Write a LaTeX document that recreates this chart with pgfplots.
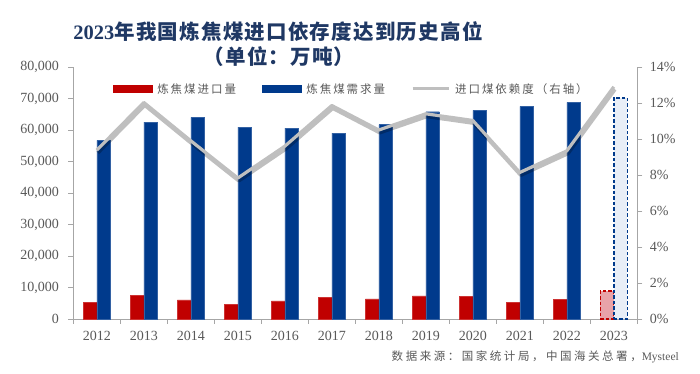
\documentclass[border=0pt]{standalone}
\usepackage{pgfplots}
\pgfplotsset{compat=1.18}
\usepackage{fontspec}
\setmainfont{Liberation Serif}
\newfontfamily\cjk[LetterSpace=17]{Noto Sans CJK SC}
\newfontfamily\cjknote[LetterSpace=22]{Noto Sans CJK SC}
\newfontfamily\cjktitle[LetterSpace=6]{Noto Sans CJK SC}
\definecolor{cred}{HTML}{C00000}
\definecolor{cblue}{HTML}{003A8C}
\definecolor{cgray}{HTML}{BFBFBF}
\definecolor{ctick}{HTML}{595959}
\definecolor{caxis}{HTML}{A6A6A6}
\definecolor{ctitle}{HTML}{1F3864}
\definecolor{cpink}{HTML}{E8A3A9}
\definecolor{clight}{HTML}{E8EEF7}

\pgfplotstableread{
x imp dem ratio
0 5260 56700 9.38
1 7470 62500 12.03
2 6100 64000 9.9
3 4740 60900 7.83
4 5790 60600 9.6
5 6840 59000 11.86
6 6420 61700 10.5
7 7370 65800 11.4
8 7160 66200 11.03
9 5370 67500 8.14
10 6210 68800 9.34
}\histdata
\pgfplotstableread{
x imp dem ratio
11 8950 70200 12.9
}\estdata
\pgfplotstableread{
x ratio
0 9.38
1 12.03
2 9.9
3 7.83
4 9.6
5 11.86
6 10.5
7 11.4
8 11.03
9 8.14
10 9.34
11 12.9
}\ratiodata

\begin{document}
\begin{tikzpicture}[x=1pt,y=1pt]
\useasboundingbox (0,0) rectangle (700,374);
\node[text=ctitle, font=\fontsize{20.5}{23}\selectfont\bfseries, inner sep=0pt] at (278,342)
  {2023{\cjktitle\bfseries 年我国炼焦煤进口依存度达到历史高位}};
\node[text=ctitle, font=\fontsize{20.5}{23}\selectfont\bfseries, inner sep=0pt] at (279,317)
  {{\cjktitle\bfseries （单位：万吨）}};
\node[text=ctick, font=\fontsize{11.5}{13}\selectfont, anchor=east, inner sep=0pt] at (679,17)
  {{\cjknote 数据来源：国家统计局，中国海关总署，}Mysteel};

\begin{axis}[
  at={(73.3pt,55pt)}, anchor=south west,
  width=564pt, height=252pt, scale only axis,
  xmin=-0.5, xmax=11.5, ymin=0, ymax=80000,
  axis lines*=left,
  axis line style={caxis, line width=0.8pt, -},
  xtick={0,...,11},
  xticklabels={2012,2013,2014,2015,2016,2017,2018,2019,2020,2021,2022,2023},
  minor xtick={-0.5,0.5,...,11.5},
  major x tick style={draw=none},
  minor x tick style={caxis, line width=0.8pt},
  minor tick length=5pt,
  ytick={0,10000,...,80000},
  y tick style={caxis, line width=0.8pt},
  major tick length=5pt,
  tick align=outside,
  scaled y ticks=false,
  /pgf/number format/1000 sep={,},
  /pgf/number format/assume math mode=true,
  ticklabel style={text=ctick, font=\fontsize{14}{16}\selectfont},
  xticklabel style={yshift=-4pt},
  yticklabel style={xshift=-6pt},
  clip=false,
  legend style={draw=none, fill=none, at={(0.493,0.913)}, anchor=center,
    legend columns=3, font=\fontsize{11.5}{13}\selectfont\cjk, text=ctick,
    /tikz/every even column/.append style={column sep=24pt},
    /tikz/every odd column/.append style={column sep=3pt},
    inner sep=0pt},
  legend cell align=left,
]
\addplot[ybar, bar width=13.5pt, bar shift=-6.75pt, fill=cred, draw=cred!80!white, line width=0.3pt,
  legend image code/.code={\fill[cred] (0pt,-3.5pt) rectangle (39pt,3.5pt);}]
  table[x=x, y=imp] {\histdata};
\addlegendentry{炼焦煤进口量}
\addplot[ybar, bar width=13.5pt, bar shift=6.75pt, fill=cblue, draw=cblue!80!white, line width=0.3pt,
  legend image code/.code={\fill[cblue] (0pt,-3.5pt) rectangle (39pt,3.5pt);}]
  table[x=x, y=dem] {\histdata};
\addlegendentry{炼焦煤需求量}
\addlegendimage{legend image code/.code={\draw[cgray, line width=3pt] (0pt,0pt) -- (36pt,0pt);}}
\addlegendentry{进口煤依赖度（右轴）}
\addplot[ybar, bar width=13.5pt, bar shift=-6.75pt, fill=cpink, draw=cred, line width=1.4pt,
  dash pattern=on 3.5pt off 2pt, forget plot]
  table[x=x, y=imp] {\estdata};
\addplot[ybar, bar width=13.5pt, bar shift=6.75pt, fill=clight, draw=cblue, line width=1.4pt,
  dash pattern=on 3.5pt off 2pt, forget plot]
  table[x=x, y=dem] {\estdata};
\end{axis}

\begin{axis}[
  at={(73.3pt,55pt)}, anchor=south west,
  width=564pt, height=252pt, scale only axis,
  xmin=-0.5, xmax=11.5, ymin=0, ymax=14,
  axis y line*=right, axis x line=none,
  axis line style={caxis, line width=0.8pt, -},
  ytick={0,2,...,14},
  y tick style={caxis, line width=0.8pt},
  major tick length=5pt,
  tick align=outside,
  /pgf/number format/assume math mode=true,
  yticklabel={\pgfmathprintnumber{\tick}\%},
  ticklabel style={text=ctick, font=\fontsize{14}{16}\selectfont},
  yticklabel style={xshift=4pt},
  clip=false,
]
\addplot[black, opacity=0.25, line width=4pt, shift={(1pt,-2.5pt)}, line join=round]
  table[x=x, y=ratio] {\ratiodata};
\addplot[cgray, line width=3.2pt, line join=round]
  table[x=x, y=ratio] {\ratiodata};
\end{axis}
\end{tikzpicture}
\end{document}
